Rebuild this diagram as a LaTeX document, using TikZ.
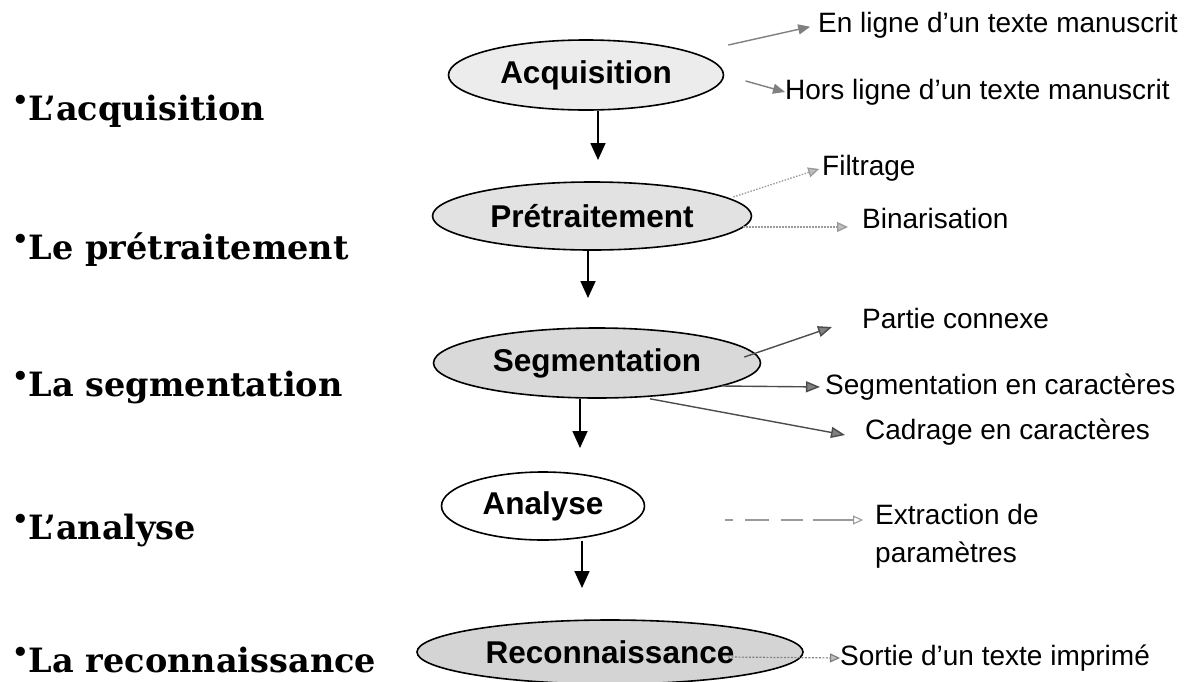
\documentclass[tikz,border=0pt]{standalone}
\usepackage{fontspec}
\setmainfont{Liberation Sans}
\newfontfamily\slabfont{DejaVu Serif}
\usetikzlibrary{shapes.geometric,arrows.meta}

\definecolor{acqfill}{HTML}{ECECEC}
\definecolor{prefill}{HTML}{E2E2E2}
\definecolor{segfill}{HTML}{D9D9D9}
\definecolor{recfill}{HTML}{D4D4D4}
\definecolor{sidegray}{HTML}{808080}
\definecolor{palegray}{HTML}{9A9A9A}

\newcommand{\stepdot}{\raisebox{0.3em}{\fontsize{26}{26}\selectfont •}}

\begin{document}
\begin{tikzpicture}[x=1pt,y=-1pt,
  stage/.style={ellipse, draw=black, line width=1.6pt, inner sep=0pt,
    font=\fontsize{31.5}{31.5}\selectfont\bfseries},
  heading/.style={anchor=base west, inner sep=0pt,
    font=\slabfont\fontsize{33.5}{33.5}\selectfont\bfseries},
  lab/.style={anchor=west, inner sep=0pt, align=left,
    font=\fontsize{28}{38}\selectfont},
  flow/.style={draw=black, line width=1.7pt, -{Triangle[length=17pt,width=15pt]}},
  side/.style={draw=sidegray, line width=1.4pt, -{Triangle[length=12pt,width=10pt]}},
  darkside/.style={draw=black!70, line width=1.4pt, -{Triangle[length=14pt,width=11pt,color=black!70,fill=sidegray]}},
  dotside/.style={draw=palegray, line width=1.3pt, dash pattern=on 1.5pt off 1.5pt,
    -{Triangle[length=11pt,width=10pt,color=palegray,fill=black!25]}}
]
\useasboundingbox (0,0) rectangle (1187,681);
\fill[white] (0,0) rectangle (1187,681);

% stages of the processing chain
\node[stage, fill=acqfill, minimum width=275, minimum height=70] (acq) at (586,75) {Acquisition};
\node[stage, fill=prefill, minimum width=319, minimum height=68] (pre) at (592,216) {Prétraitement};
\node[stage, fill=segfill, minimum width=327, minimum height=70] (seg) at (597,363) {Segmentation};
\node[stage, fill=white,   minimum width=203, minimum height=68] (ana) at (543,506) {Analyse};
\node[stage, fill=recfill, minimum width=386, minimum height=64] (rec) at (610,652) {Reconnaissance};

% headings on the left
\node[heading] (h1) at (12,120) {\stepdot L’acquisition};
\node[heading] (h2) at (12,259) {\stepdot Le prétraitement};
\node[heading] (h3) at (12,396) {\stepdot La segmentation};
\node[heading] (h4) at (12,539) {\stepdot L’analyse};
\node[heading] (h5) at (12,672) {\stepdot La reconnaissance};

% downward arrows between the stages
\coordinate (d1) at (598,160);
\coordinate (d2) at (588,298);
\coordinate (d3) at (580,448);
\coordinate (d4) at (582,588);
\draw[flow] (d1 |- acq.south) -- (d1);
\draw[flow] (d2 |- pre.south) -- (d2);
\draw[flow] (d3 |- seg.south) -- (d3);
\draw[flow] (d4 |- ana.south) -- (d4);

% details of each stage
\node[lab] (en)   at (818,25)  {En ligne d’un texte manuscrit};
\node[lab] (hors) at (785,92)  {Hors ligne d’un texte manuscrit};
\node[lab] (fil)  at (822,168) {Filtrage};
\node[lab] (bin)  at (862,218) {Binarisation};
\node[lab] (part) at (862,318) {Partie connexe};
\node[lab] (segc) at (825,387) {Segmentation en caractères};
\node[lab] (cad)  at (865,432) {Cadrage en caractères};
\node[lab] (ext)  at (875,536) {Extraction de\\paramètres};
\node[lab] (sor)  at (840,658) {Sortie d’un texte imprimé};

\draw[side, shorten >=8pt] ([xshift=4pt,yshift=30pt]acq.east) -- (en.west);
\draw[side, shorten <=22pt] (acq.east) -- (hors.west);

\draw[dotside, shorten >=3pt] ([xshift=-19pt,yshift=19pt]pre.east) -- (fil.west);
\draw[dotside] ([xshift=-9pt,yshift=-11pt]pre.east) -- ([xshift=-14pt,yshift=-9pt]bin.west);

\draw[darkside] ([xshift=-17pt,yshift=6pt]seg.east) -- ([xshift=-30pt,yshift=-9pt]part.west);
\draw[darkside, shorten >=5pt] ([xshift=-40pt,yshift=-23pt]seg.east) -- (segc.west);
\draw[darkside] ([xshift=53pt]seg.south) -- ([xshift=-20pt,yshift=-3pt]cad.west);

\draw[draw=palegray, line width=1.1pt,
  dash pattern=on 8pt off 12pt on 24pt off 12pt on 22pt off 10pt on 40pt off 0pt,
  -{Triangle[length=10pt,width=9pt,color=palegray,fill=white]}]
  ([xshift=80pt,yshift=-14pt]ana.east) -- ([xshift=-12pt,yshift=16pt]ext.west);

\draw[draw=sidegray, line width=1.2pt, dash pattern=on 2pt off 1.5pt,
  -{Triangle[length=10pt,width=9pt,color=sidegray,fill=black!25]}]
  ([xshift=-76pt,yshift=-5pt]rec.east) -- (sor.west);
\end{tikzpicture}
\end{document}
